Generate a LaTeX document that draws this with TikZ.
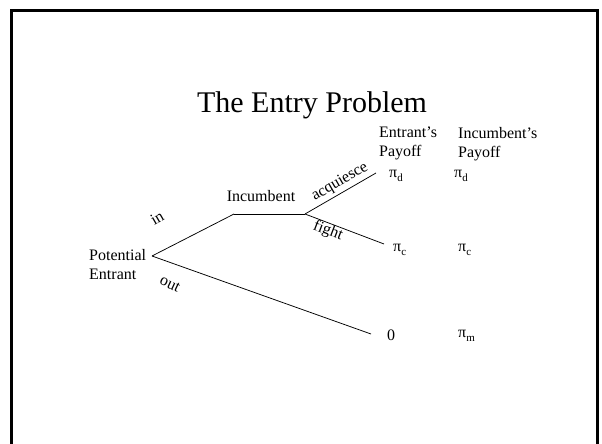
\documentclass[tikz,border=0pt]{standalone}
\usepackage{fontspec}
\setmainfont{Liberation Serif}
\usepackage{tikz}
\newcommand{\paysub}[1]{\raisebox{-4pt}{\fontsize{11}{11}\selectfont #1}}
\tikzset{
  slideframe/.style={draw=black, line width=3pt},
  branch/.style={draw=black, line width=0.75pt},
  player/.style={inner sep=0pt, align=left, font=\fontsize{16}{19}\selectfont},
  movelbl/.style={inner sep=0pt, font=\fontsize{16}{19}\selectfont},
  payoff/.style={inner sep=0pt, anchor=base west, font=\fontsize{16}{19}\selectfont},
  header/.style={inner sep=0pt, anchor=north west, align=left, font=\fontsize{16}{19}\selectfont},
}

\begin{document}
\begin{tikzpicture}[x=1pt,y=1pt]
  \useasboundingbox (0,0) rectangle (602,444);
  \draw[slideframe] (11,0) -- (11,433.5) -- (597,433.5) -- (597,0);
  \node[inner sep=0pt, anchor=base, font=\fontsize{30}{36}\selectfont] (title) at (312,331) {The Entry Problem};
  % tree points
  \coordinate (pe) at (152,188);
  \coordinate (incL) at (234,230);
  \coordinate (incR) at (305,230);
  \coordinate (acqEnd) at (376,271);
  \coordinate (fightEnd) at (384,200);
  \coordinate (outEnd) at (371,110);
  \node[player, anchor=north west] (entrant) at (89,195) {Potential\\Entrant};
  \node[player, anchor=base] (incumbent) at (261,242) {Incumbent};
  \draw[branch] (pe) -- (incL);
  \draw[branch] (incL) -- (incR);
  \draw[branch] (incR) -- (acqEnd);
  \draw[branch] (incR) -- (fightEnd);
  \draw[branch] (pe) -- (outEnd);
  % move labels
  \node[movelbl, rotate=30] (in) at (157,226) {in};
  \node[movelbl, rotate=-25] (out) at (170,160) {out};
  \node[movelbl, rotate=30] (acq) at (340,262) {acquiesce};
  \node[movelbl, rotate=-21] (fight) at (328,213) {fight};
  % payoffs
  \node[header] (hdrE) at (379,317) {Entrant's\\Payoff};
  \node[header] (hdrI) at (458,317) {Incumbent's\\Payoff};
  \node[payoff] (pdE) at (389,266) {π\paysub{d}};
  \node[payoff] (pdI) at (454,266) {π\paysub{d}};
  \node[payoff] (pcE) at (393,192) {π\paysub{c}};
  \node[payoff] (pcI) at (458,192) {π\paysub{c}};
  \node[payoff] (zeroE) at (387,103) {0};
  \node[payoff] (pmI) at (458,106) {π\paysub{m}};
\end{tikzpicture}
\end{document}
